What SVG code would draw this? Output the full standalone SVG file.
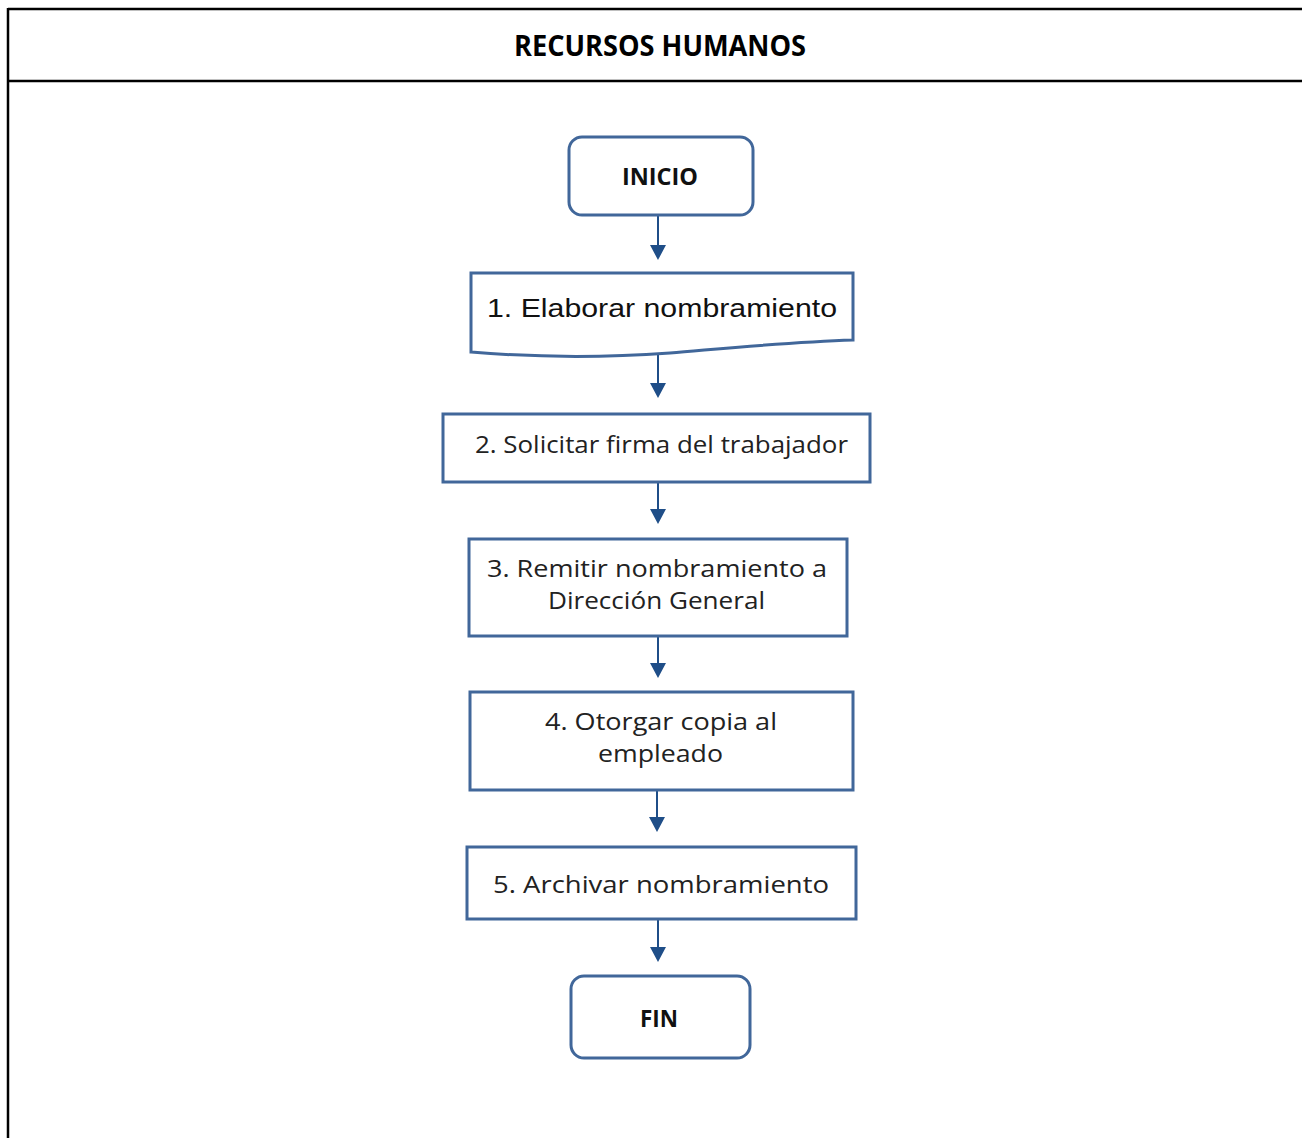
<svg xmlns="http://www.w3.org/2000/svg" width="1302" height="1138" viewBox="0 0 1302 1138">
  <defs>
    <style>
      .frame { stroke: #000; stroke-width: 2.5; fill: none; }
      .box { fill: #fff; stroke: #41679a; stroke-width: 3; }
      .conn { stroke: #1f4e88; stroke-width: 2; fill: none; }
      .title { font-family: "Open Sans", "Liberation Sans", sans-serif; font-weight: 700; font-size: 28px; fill: #000; }
      .term { font-family: "Open Sans", "Liberation Sans", sans-serif; font-weight: 700; font-size: 24px; fill: #111; }
      .lbl { font-family: "Open Sans", "Liberation Sans", sans-serif; font-size: 23px; fill: #222; }
      .lbl1 { font-family: "Liberation Sans", Arial, sans-serif; font-size: 26px; fill: #111; }
    </style>
    <marker id="ah" viewBox="0 0 15 16" refX="0" refY="8" markerWidth="15" markerHeight="16" markerUnits="userSpaceOnUse" orient="auto">
      <path d="M0,0 L15,8 L0,16 Z" fill="#1f4e88"/>
    </marker>
  </defs>

  <g id="frame">
    <line class="frame" x1="8" y1="9" x2="1302" y2="9"/>
    <line class="frame" x1="8" y1="8" x2="8" y2="1138"/>
    <line class="frame" x1="8" y1="81" x2="1302" y2="81"/>
    <text class="title" x="514" y="56" textLength="292" lengthAdjust="spacingAndGlyphs">RECURSOS HUMANOS</text>
  </g>

  <g id="connectors">
    <line class="conn" x1="658" y1="215" x2="658" y2="245" marker-end="url(#ah)"/>
    <line class="conn" x1="658" y1="354" x2="658" y2="383" marker-end="url(#ah)"/>
    <line class="conn" x1="658" y1="478" x2="658" y2="509" marker-end="url(#ah)"/>
    <line class="conn" x1="658" y1="632" x2="658" y2="663" marker-end="url(#ah)"/>
    <line class="conn" x1="657" y1="786" x2="657" y2="817" marker-end="url(#ah)"/>
    <line class="conn" x1="658" y1="916" x2="658" y2="947" marker-end="url(#ah)"/>
  </g>

  <g id="inicio">
    <rect class="box" x="569" y="137" width="184" height="78" rx="13" ry="13"/>
    <text class="term" x="622" y="185" textLength="76" lengthAdjust="spacingAndGlyphs">INICIO</text>
  </g>

  <g id="n1">
    <path class="box" d="M471,273 H853 V340 C790,342 730,348 670,353 C600,358 530,357 471,352 Z"/>
    <text class="lbl1" x="487" y="317" textLength="350" lengthAdjust="spacingAndGlyphs">1. Elaborar nombramiento</text>
  </g>

  <g id="n2">
    <rect class="box" x="443" y="414" width="427" height="68"/>
    <text class="lbl" x="475" y="453" textLength="373" lengthAdjust="spacingAndGlyphs">2. Solicitar firma del trabajador</text>
  </g>

  <g id="n3">
    <rect class="box" x="469" y="539" width="378" height="97"/>
    <text class="lbl" x="487" y="577" textLength="340" lengthAdjust="spacingAndGlyphs">3. Remitir nombramiento a</text>
    <text class="lbl" x="548" y="609" textLength="217" lengthAdjust="spacingAndGlyphs">Dirección General</text>
  </g>

  <g id="n4">
    <rect class="box" x="470" y="692" width="383" height="98"/>
    <text class="lbl" x="545" y="730" textLength="232" lengthAdjust="spacingAndGlyphs">4. Otorgar copia al</text>
    <text class="lbl" x="598" y="762" textLength="125" lengthAdjust="spacingAndGlyphs">empleado</text>
  </g>

  <g id="n5">
    <rect class="box" x="467" y="847" width="389" height="72"/>
    <text class="lbl" x="493" y="893" textLength="336" lengthAdjust="spacingAndGlyphs">5. Archivar nombramiento</text>
  </g>

  <g id="fin">
    <rect class="box" x="571" y="976" width="179" height="82" rx="13" ry="13"/>
    <text class="term" x="640" y="1027" textLength="38" lengthAdjust="spacingAndGlyphs">FIN</text>
  </g>
</svg>
